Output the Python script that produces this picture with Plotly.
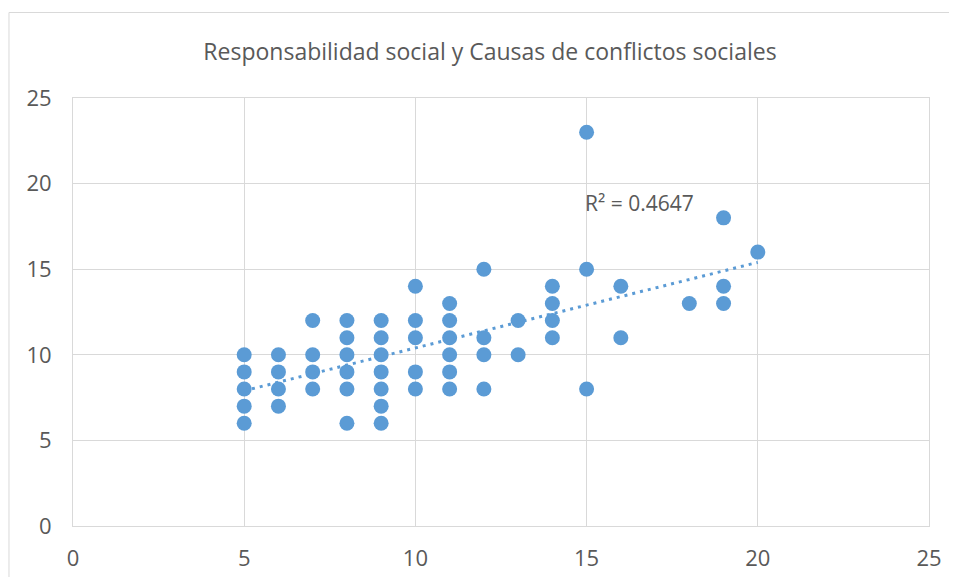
import plotly.graph_objects as go

# Responsabilidad social (x) vs Causas de conflictos sociales (y)
resp_social = [5, 5, 5, 5, 5,
               6, 6, 6, 6,
               7, 7, 7, 7,
               8, 8, 8, 8, 8, 8,
               9, 9, 9, 9, 9, 9, 9,
               10, 10, 10, 10, 10,
               11, 11, 11, 11, 11, 11,
               12, 12, 12, 12,
               13, 13,
               14, 14, 14, 14,
               15, 15, 15,
               16, 16,
               18,
               19, 19, 19,
               20]
causas_conf = [10, 9, 8, 7, 6,
               10, 9, 8, 7,
               12, 10, 9, 8,
               12, 11, 10, 9, 8, 6,
               12, 11, 10, 9, 8, 7, 6,
               14, 12, 11, 9, 8,
               13, 12, 11, 10, 9, 8,
               15, 11, 10, 8,
               12, 10,
               14, 13, 12, 11,
               23, 15, 8,
               14, 11,
               13,
               18, 14, 13,
               16]

# linear trendline end points
trend_x = [5, 20]
trend_y = [7.9, 15.4]
r2_label = "R² = 0.4647"

title = "Responsabilidad social y Causas de conflictos sociales"
blue = "#5B9BD5"
grey_txt = "#595959"
grid = "#D9D9D9"
font = "Open Sans"

fig = go.Figure()

fig.add_trace(go.Scatter(
    x=resp_social, y=causas_conf,
    mode="markers",
    marker=dict(size=15, color=blue),
    showlegend=False,
))

fig.add_trace(go.Scatter(
    x=trend_x, y=trend_y,
    mode="lines",
    line=dict(color=blue, width=3, dash="3px,5px"),
    showlegend=False,
))

fig.add_annotation(
    x=15, y=18.87, xref="x", yref="y",
    text=r2_label, showarrow=False,
    xanchor="left", yanchor="middle", xshift=-4,
    font=dict(family=font, size=21, color=grey_txt),
)

# outer chart border
fig.add_shape(
    type="rect", xref="paper", yref="paper",
    x0=-0.0748, x1=1.06, y0=-0.25, y1=1.1998,
    line=dict(color=grid, width=1),
)

axis_common = dict(
    range=[0, 25], dtick=5, tick0=0,
    showgrid=True, gridcolor=grid, gridwidth=1,
    showline=True, mirror=True, linecolor=grid, linewidth=1,
    zeroline=False, ticks="",
    tickfont=dict(family=font, size=22, color=grey_txt),
    fixedrange=True,
)

fig.update_xaxes(**axis_common, ticklabelstandoff=13)
fig.update_yaxes(**axis_common, ticklabelstandoff=16)

# page body has an 8px margin, so shift everything up/left by 8px
fig.update_layout(
    width=957, height=577,
    margin=dict(l=65, r=36, t=90, b=59),
    paper_bgcolor="white", plot_bgcolor="white",
    title=dict(
        text=title, x=482 / 957, y=1 - 44 / 577,
        xanchor="center", yanchor="middle",
        xref="container", yref="container",
        font=dict(family=font, size=23, color=grey_txt),
    ),
)

fig.write_html("out.html")
